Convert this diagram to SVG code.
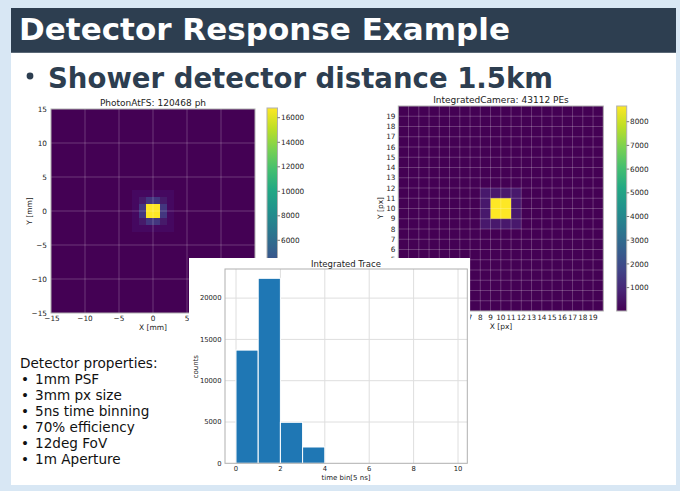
<svg xmlns="http://www.w3.org/2000/svg" width="680" height="491" viewBox="0 0 680 491">
<defs>
<linearGradient id="viridis" x1="0" y1="1" x2="0" y2="0">
<stop offset="0" stop-color="#440154"/><stop offset="0.1" stop-color="#482475"/><stop offset="0.2" stop-color="#414487"/><stop offset="0.3" stop-color="#355f8d"/><stop offset="0.4" stop-color="#2a788e"/><stop offset="0.5" stop-color="#21918c"/><stop offset="0.6" stop-color="#22a884"/><stop offset="0.7" stop-color="#44bf70"/><stop offset="0.8" stop-color="#7ad151"/><stop offset="0.9" stop-color="#bddf26"/><stop offset="1" stop-color="#fde725"/>
</linearGradient>
<style>
.t{font-family:"DejaVu Sans","Liberation Sans",sans-serif;fill:#222}
.tk{font-size:7.3px}
.tkr{font-size:7.3px;text-anchor:end}
.tkm{font-size:7.3px;text-anchor:middle}
.ttl{font-size:9px;text-anchor:middle}
.lab{font-size:7.5px;text-anchor:middle}
.grid{stroke:#ffffff;stroke-opacity:0.22;stroke-width:1;fill:none}
.spine{fill:none;stroke:#b0b0b0;stroke-width:1}
.tick{stroke:#555;stroke-width:0.8}
.hgrid{stroke:#dedede;stroke-width:1;fill:none}
.bar{fill:#1f77b4;stroke:#ffffff;stroke-width:1}
.prop{font-family:"DejaVu Sans","Liberation Sans",sans-serif;font-size:13.6px;fill:#111}
</style>
</defs>
<g id="background">
<rect x="0" y="0" width="680" height="491" fill="#d8e7f4"/>
<rect x="11" y="53" width="665" height="432" fill="#ffffff"/>
</g>
<g id="title">
<rect x="11" y="8" width="665" height="45" fill="#2d3e50"/>
<rect x="11" y="52" width="665" height="1" fill="#5a6876"/>
<text x="19" y="40" font-family="DejaVu Sans, Liberation Sans, sans-serif" font-weight="bold" font-size="30" fill="#ffffff" textLength="491" lengthAdjust="spacingAndGlyphs">Detector Response Example</text>
</g>
<g id="bullet">
<circle cx="30" cy="76" r="3.4" fill="#2d3e50"/>
<text x="48" y="88" font-family="DejaVu Sans, Liberation Sans, sans-serif" font-weight="bold" font-size="29" fill="#2d3e50" textLength="505" lengthAdjust="spacingAndGlyphs">Shower detector distance 1.5km</text>
</g>
<g id="plot-photon">
<rect x="51" y="109" width="204" height="204" fill="#440154"/>
<rect x="132" y="190" width="42" height="42" fill="#450860"/>
<rect x="139" y="197" width="28" height="28" fill="#461a6a"/>
<rect x="139" y="204" width="28" height="14" fill="#43367f"/>
<rect x="146" y="197" width="14" height="28" fill="#43367f"/>
<rect x="146" y="204" width="14" height="14" fill="#fde725"/>
<path class="grid" d="M85 109V313M119 109V313M153 109V313M187 109V313M221 109V313M51 143H255M51 177H255M51 211H255M51 245H255M51 279H255"/>
<rect class="spine" x="51" y="109" width="204" height="204"/>
<text class="t ttl" x="153" y="106">PhotonAtFS: 120468 ph</text>
<g class="t">
<text class="tkr" x="47" y="111.5">15</text>
<text class="tkr" x="47" y="145.5">10</text>
<text class="tkr" x="47" y="179.5">5</text>
<text class="tkr" x="47" y="213.5">0</text>
<text class="tkr" x="47" y="247.5">−5</text>
<text class="tkr" x="47" y="281.5">−10</text>
<text class="tkr" x="47" y="315.5">−15</text>
<text class="tkm" x="52" y="321">−15</text>
<text class="tkm" x="85" y="321">−10</text>
<text class="tkm" x="119" y="321">−5</text>
<text class="tkm" x="153" y="321">0</text>
<text class="tkm" x="187" y="321">5</text>
<text class="tkm" x="221" y="321">10</text>
<text class="tkm" x="255" y="321">15</text>
<text class="lab" x="153" y="330">X [mm]</text>
<text class="lab" transform="translate(32 211) rotate(-90)">Y [mm]</text>
</g>
</g>
<g id="cbar-photon">
<rect x="267" y="108" width="10.5" height="205" fill="url(#viridis)" stroke="#b0b0b0" stroke-width="1"/>
<path class="tick" d="M277.5 117.7h2.5M277.5 142.3h2.5M277.5 166.8h2.5M277.5 191.3h2.5M277.5 215.8h2.5M277.5 240.3h2.5M277.5 264.8h2.5M277.5 289.3h2.5"/>
<g class="t">
<text class="tk" x="281" y="120.3">16000</text>
<text class="tk" x="281" y="144.9">14000</text>
<text class="tk" x="281" y="169.4">12000</text>
<text class="tk" x="281" y="193.9">10000</text>
<text class="tk" x="281" y="218.4">8000</text>
<text class="tk" x="281" y="242.9">6000</text>
<text class="tk" x="281" y="267.4">4000</text>
<text class="tk" x="281" y="291.9">2000</text>
</g>
</g>
<g id="plot-camera">
<rect x="398.3" y="106" width="205" height="205" fill="#440154"/>
<rect x="480.3" y="188" width="41" height="41" fill="#48186c"/>
<rect x="490.55" y="198.25" width="20.5" height="20.5" fill="#fde725"/>
<path class="grid" d="M408.55 106V311M418.8 106V311M429.05 106V311M439.3 106V311M449.55 106V311M459.8 106V311M470.05 106V311M480.3 106V311M490.55 106V311M500.8 106V311M511.05 106V311M521.3 106V311M531.55 106V311M541.8 106V311M552.05 106V311M562.3 106V311M572.55 106V311M582.8 106V311M593.05 106V311M398.3 300.75H603.3M398.3 290.5H603.3M398.3 280.25H603.3M398.3 270H603.3M398.3 259.75H603.3M398.3 249.5H603.3M398.3 239.25H603.3M398.3 229H603.3M398.3 218.75H603.3M398.3 208.5H603.3M398.3 198.25H603.3M398.3 188H603.3M398.3 177.75H603.3M398.3 167.5H603.3M398.3 157.25H603.3M398.3 147H603.3M398.3 136.75H603.3M398.3 126.5H603.3M398.3 116.25H603.3"/>
<rect class="spine" x="398.3" y="106" width="205" height="205"/>
<text class="t ttl" x="501" y="103">IntegratedCamera: 43112 PEs</text>
<g class="t">
<text class="tkr" x="395.5" y="118.8">19</text>
<text class="tkr" x="395.5" y="129">18</text>
<text class="tkr" x="395.5" y="139.3">17</text>
<text class="tkr" x="395.5" y="149.5">16</text>
<text class="tkr" x="395.5" y="159.8">15</text>
<text class="tkr" x="395.5" y="170">14</text>
<text class="tkr" x="395.5" y="180.3">13</text>
<text class="tkr" x="395.5" y="190.5">12</text>
<text class="tkr" x="395.5" y="200.8">11</text>
<text class="tkr" x="395.5" y="211">10</text>
<text class="tkr" x="395.5" y="221.3">9</text>
<text class="tkr" x="395.5" y="231.5">8</text>
<text class="tkr" x="395.5" y="241.8">7</text>
<text class="tkr" x="395.5" y="252">6</text>
<text class="tkr" x="395.5" y="262.3">5</text>
<text class="tkr" x="395.5" y="272.5">4</text>
<text class="tkr" x="395.5" y="282.8">3</text>
<text class="tkr" x="395.5" y="293">2</text>
<text class="tkr" x="395.5" y="303.3">1</text>
<text class="tkm" x="408.55" y="319.5">1</text>
<text class="tkm" x="418.8" y="319.5">2</text>
<text class="tkm" x="429.05" y="319.5">3</text>
<text class="tkm" x="439.3" y="319.5">4</text>
<text class="tkm" x="449.55" y="319.5">5</text>
<text class="tkm" x="459.8" y="319.5">6</text>
<text class="tkm" x="470.05" y="319.5">7</text>
<text class="tkm" x="480.3" y="319.5">8</text>
<text class="tkm" x="490.55" y="319.5">9</text>
<text class="tkm" x="500.8" y="319.5">10</text>
<text class="tkm" x="511.05" y="319.5">11</text>
<text class="tkm" x="521.3" y="319.5">12</text>
<text class="tkm" x="531.55" y="319.5">13</text>
<text class="tkm" x="541.8" y="319.5">14</text>
<text class="tkm" x="552.05" y="319.5">15</text>
<text class="tkm" x="562.3" y="319.5">16</text>
<text class="tkm" x="572.55" y="319.5">17</text>
<text class="tkm" x="582.8" y="319.5">18</text>
<text class="tkm" x="593.05" y="319.5">19</text>
<text class="lab" x="501" y="329">X [px]</text>
<text class="lab" transform="translate(383 208) rotate(-90)">Y [px]</text>
</g>
</g>
<g id="cbar-camera">
<rect x="616.7" y="106" width="10" height="205" fill="url(#viridis)" stroke="#b0b0b0" stroke-width="1"/>
<path class="tick" d="M626.7 121.7h2.5M626.7 145.4h2.5M626.7 169.1h2.5M626.7 192.8h2.5M626.7 216.5h2.5M626.7 240.2h2.5M626.7 263.9h2.5M626.7 287.6h2.5"/>
<g class="t">
<text class="tk" x="630" y="124.3">8000</text>
<text class="tk" x="630" y="148">7000</text>
<text class="tk" x="630" y="171.7">6000</text>
<text class="tk" x="630" y="195.4">5000</text>
<text class="tk" x="630" y="219.1">4000</text>
<text class="tk" x="630" y="242.8">3000</text>
<text class="tk" x="630" y="266.5">2000</text>
<text class="tk" x="630" y="290.2">1000</text>
</g>
</g>
<g id="hist-trace">
<rect x="189" y="258" width="281" height="227" fill="#ffffff"/>
<path class="hgrid" d="M236 269V463.3M280.4 269V463.3M324.8 269V463.3M369.2 269V463.3M413.6 269V463.3M458 269V463.3M225 422H467.3M225 380.7H467.3M225 339.4H467.3M225 298.1H467.3"/>
<rect class="bar" x="236" y="350.1" width="22.2" height="113.2"/>
<rect class="bar" x="258.2" y="278.3" width="22.2" height="185"/>
<rect class="bar" x="280.4" y="422.3" width="22.2" height="41"/>
<rect class="bar" x="302.6" y="447" width="22.2" height="16.3"/>
<rect class="spine" x="225" y="269" width="242.3" height="194.3"/>
<text class="t" x="346" y="267" font-size="8.5" text-anchor="middle">Integrated Trace</text>
<g class="t" font-size="6.8">
<text x="221.5" y="465.6" text-anchor="end">0</text>
<text x="221.5" y="424.3" text-anchor="end">5000</text>
<text x="221.5" y="383" text-anchor="end">10000</text>
<text x="221.5" y="341.7" text-anchor="end">15000</text>
<text x="221.5" y="300.4" text-anchor="end">20000</text>
<text x="236" y="471" text-anchor="middle">0</text>
<text x="280.4" y="471" text-anchor="middle">2</text>
<text x="324.8" y="471" text-anchor="middle">4</text>
<text x="369.2" y="471" text-anchor="middle">6</text>
<text x="413.6" y="471" text-anchor="middle">8</text>
<text x="458" y="471" text-anchor="middle">10</text>
<text x="346" y="479.5" font-size="7" text-anchor="middle">time bin[5 ns]</text>
<text transform="translate(197.5 366.7) rotate(-90)" font-size="7" text-anchor="middle">counts</text>
</g>
</g>
<g id="properties">
<text class="prop" x="20" y="368">Detector properties:</text>
<text class="prop" x="21" y="384">•</text><text class="prop" x="35" y="384">1mm PSF</text>
<text class="prop" x="21" y="400">•</text><text class="prop" x="35" y="400">3mm px size</text>
<text class="prop" x="21" y="416">•</text><text class="prop" x="35" y="416">5ns time binning</text>
<text class="prop" x="21" y="432">•</text><text class="prop" x="35" y="432">70% efficiency</text>
<text class="prop" x="21" y="448">•</text><text class="prop" x="35" y="448">12deg FoV</text>
<text class="prop" x="21" y="464">•</text><text class="prop" x="35" y="464">1m Aperture</text>
</g>
</svg>
